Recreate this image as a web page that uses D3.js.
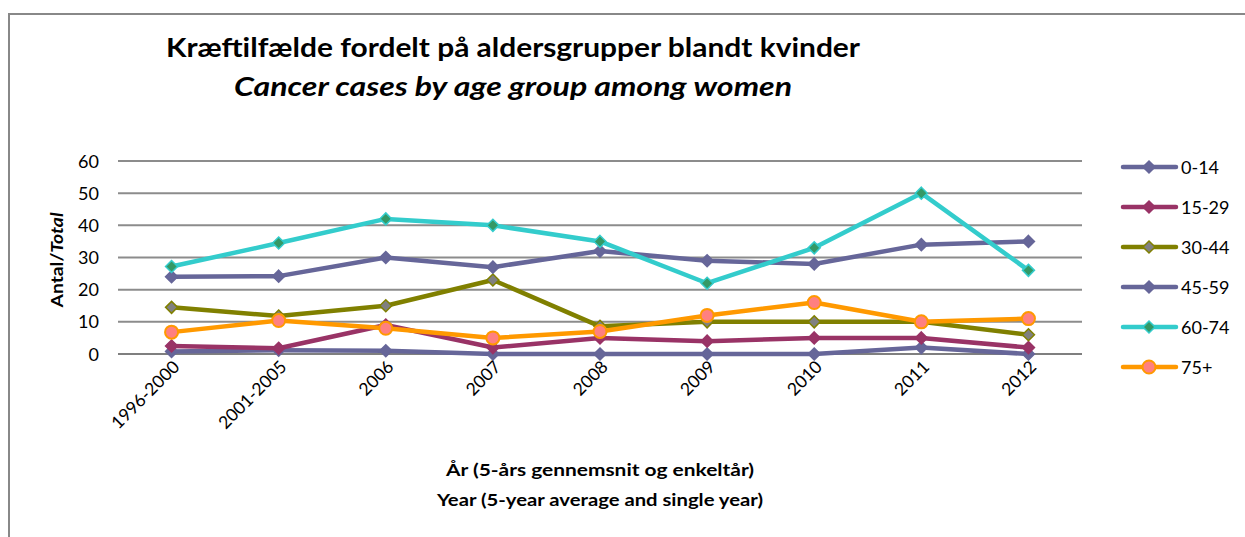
<!DOCTYPE html>
<html>
<head>
<meta charset="utf-8">
<script src="https://cdn.jsdelivr.net/npm/d3@7"></script>
<style>
  body { margin: 0; background: #fff; }
  text { font-family: Lato, "Open Sans", sans-serif; fill: #000; }
</style>
</head>
<body>
<svg id="chart" width="1245" height="537"></svg>
<script>
// categories and tick labels
const years = ["1996-2000", "2001-2005", "2006", "2007", "2008", "2009", "2010", "2011", "2012"];
const yTicks = [0, 10, 20, 30, 40, 50, 60];
const groups = ["0-14", "15-29", "30-44", "45-59", "60-74", "75+"];

// values
const age0_14  = [0.8, 1.2, 1, 0, 0, 0, 0, 2, 0];
const age15_29 = [2.5, 1.8, 9, 2, 5, 4, 5, 5, 2];
const age30_44 = [14.5, 11.8, 15, 23, 8.6, 10, 10, 10, 6];
const age45_59 = [24, 24.2, 30, 27, 32, 29, 28, 34, 35];
const age60_74 = [27.2, 34.5, 42, 40, 35, 22, 33, 50, 26];
const age75    = [6.8, 10.4, 8, 5, 7, 12, 16, 10, 11];

const seriesVals = [age0_14, age15_29, age30_44, age45_59, age60_74, age75];
const lineColors = ["#666699", "#993366", "#808000", "#666699", "#33CCCC", "#FF9900"];
const markFill   = ["#666699", "#993366", "#808080", "#666699", "#339966", "#FF8080"];
const markShape  = ["diamond", "diamond", "diamond", "diamond", "diamond", "circle"];

const svg = d3.select("#chart");

// outer frame like the spreadsheet chart box
svg.append("path")
    .attr("d", "M9,537 L9,14 L1245,14")
    .attr("fill", "none")
    .attr("stroke", "#888")
    .attr("stroke-width", 2);

const plotL = 118, plotR = 1082, plotT = 161, plotB = 354;

const x = d3.scalePoint().domain(years).range([plotL, plotR]).padding(0.5);
const y = d3.scaleLinear().domain([0, 60]).range([plotB, plotT]);

// gridlines
svg.append("g")
    .selectAll("line")
    .data(yTicks.filter(d => d > 0))
    .join("line")
    .attr("x1", plotL).attr("x2", plotR)
    .attr("y1", d => y(d)).attr("y2", d => y(d))
    .attr("stroke", "#8c8c8c")
    .attr("stroke-width", 2);

// y axis labels
svg.append("g")
    .selectAll("text")
    .data(yTicks)
    .join("text")
    .attr("x", 99)
    .attr("y", d => y(d) + 6.5)
    .attr("text-anchor", "end")
    .style("font-size", "18px")
    .text(d => d);

// zero axis
svg.append("line")
    .attr("x1", plotL).attr("x2", plotR)
    .attr("y1", y(0)).attr("y2", y(0))
    .attr("stroke", "#000")
    .attr("stroke-width", 1.2);

// x tick labels rotated
svg.append("g")
    .selectAll("text")
    .data(years)
    .join("text")
    .attr("text-anchor", "end")
    .attr("transform", d => `translate(${x(d) + 9},${y(0) + 14}) rotate(-45)`)
    .style("font-size", "17.5px")
    .text(d => d);

// lines
const line = d3.line()
    .x((d, i) => x(years[i]))
    .y(d => y(d));

// square turned 45 degrees, like the spreadsheet diamond
const diamond = "M0,-6L6,0L0,6L-6,0Z";

seriesVals.forEach((vals, s) => {
    const g = svg.append("g");
    g.append("path")
        .datum(vals)
        .attr("d", line)
        .attr("fill", "none")
        .attr("stroke", lineColors[s])
        .attr("stroke-width", 4.5)
        .attr("stroke-linejoin", "round");

    if (markShape[s] == "circle") {
        g.selectAll("circle")
            .data(vals)
            .join("circle")
            .attr("cx", (d, i) => x(years[i]))
            .attr("cy", d => y(d))
            .attr("r", 6.5)
            .attr("fill", markFill[s])
            .attr("stroke", lineColors[s])
            .attr("stroke-width", 2);
    } else {
        g.selectAll("path.m")
            .data(vals)
            .join("path")
            .attr("class", "m")
            .attr("d", diamond)
            .attr("transform", (d, i) => `translate(${x(years[i])},${y(d)})`)
            .attr("fill", markFill[s])
            .attr("stroke", lineColors[s])
            .attr("stroke-width", 1.5);
    }
});

// legend
const legend = svg.append("g");
groups.forEach((name, s) => {
    const ly = 167 + s * 40;
    legend.append("line")
        .attr("x1", 1123).attr("x2", 1176)
        .attr("y1", ly).attr("y2", ly)
        .attr("stroke", lineColors[s])
        .attr("stroke-width", 4.5)
        .attr("stroke-linecap", "round");
    if (markShape[s] == "circle") {
        legend.append("circle")
            .attr("cx", 1149).attr("cy", ly).attr("r", 6.5)
            .attr("fill", markFill[s])
            .attr("stroke", lineColors[s])
            .attr("stroke-width", 2);
    } else {
        legend.append("path")
            .attr("d", diamond)
            .attr("transform", `translate(1149,${ly})`)
            .attr("fill", markFill[s])
            .attr("stroke", lineColors[s])
            .attr("stroke-width", 1.5);
    }
    legend.append("text")
        .attr("x", 1181)
        .attr("y", ly + 6.5)
        .style("font-size", "18px")
        .text(name);
});

// titles
svg.append("text")
    .attr("x", 513).attr("y", 57)
    .attr("text-anchor", "middle")
    .attr("textLength", 694)
    .attr("lengthAdjust", "spacingAndGlyphs")
    .style("font-size", "26px")
    .style("font-weight", "bold")
    .text("Kræftilfælde fordelt på aldersgrupper blandt kvinder");

svg.append("text")
    .attr("x", 513).attr("y", 96)
    .attr("text-anchor", "middle")
    .attr("textLength", 558)
    .attr("lengthAdjust", "spacingAndGlyphs")
    .style("font-size", "26px")
    .style("font-weight", "bold")
    .style("font-style", "italic")
    .text("Cancer cases by age group among women");

// y axis title
const yt = svg.append("text")
    .attr("transform", "translate(63,260) rotate(-90)")
    .attr("text-anchor", "middle")
    .attr("textLength", 95)
    .attr("lengthAdjust", "spacingAndGlyphs")
    .style("font-size", "17px")
    .style("font-weight", "bold");
yt.append("tspan").text("Antal/");
yt.append("tspan").style("font-style", "italic").text("Total");

// x axis title
svg.append("text")
    .attr("x", 600).attr("y", 476)
    .attr("text-anchor", "middle")
    .attr("textLength", 308)
    .attr("lengthAdjust", "spacingAndGlyphs")
    .style("font-size", "17px")
    .style("font-weight", "bold")
    .text("År (5-års gennemsnit og enkeltår)");

svg.append("text")
    .attr("x", 600).attr("y", 506)
    .attr("text-anchor", "middle")
    .attr("textLength", 326)
    .attr("lengthAdjust", "spacingAndGlyphs")
    .style("font-size", "17px")
    .style("font-weight", "bold")
    .text("Year (5-year average and single year)");
</script>
</body>
</html>
